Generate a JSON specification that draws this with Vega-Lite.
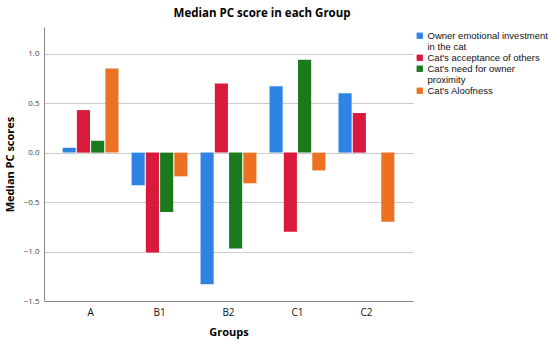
{
  "$schema": "https://vega.github.io/schema/vega-lite/v6.json",
  "width": 369,
  "height": 274,
  "autosize": {"type": "none"},
  "padding": {"left": 44, "top": 27, "right": 137, "bottom": 45},
  "title": {"text": "Median PC score in each Group", "anchor": "middle", "frame": "bounds", "fontSize": 11.5, "font": "Open Sans", "fontWeight": "bold", "offset": 8, "dx": -14},
  "config": {"view": {"stroke": null}, "font": "Open Sans"},
  "data": {"values": [
    {"group": "A", "factor": "Owner emotional investment|in the cat", "value": 0.05},
    {"group": "A", "factor": "Cat's acceptance of others", "value": 0.43},
    {"group": "A", "factor": "Cat's need for owner|proximity", "value": 0.12},
    {"group": "A", "factor": "Cat's Aloofness", "value": 0.85},
    {"group": "B1", "factor": "Owner emotional investment|in the cat", "value": -0.33},
    {"group": "B1", "factor": "Cat's acceptance of others", "value": -1.01},
    {"group": "B1", "factor": "Cat's need for owner|proximity", "value": -0.6},
    {"group": "B1", "factor": "Cat's Aloofness", "value": -0.24},
    {"group": "B2", "factor": "Owner emotional investment|in the cat", "value": -1.33},
    {"group": "B2", "factor": "Cat's acceptance of others", "value": 0.7},
    {"group": "B2", "factor": "Cat's need for owner|proximity", "value": -0.97},
    {"group": "B2", "factor": "Cat's Aloofness", "value": -0.31},
    {"group": "C1", "factor": "Owner emotional investment|in the cat", "value": 0.67},
    {"group": "C1", "factor": "Cat's acceptance of others", "value": -0.8},
    {"group": "C1", "factor": "Cat's need for owner|proximity", "value": 0.94},
    {"group": "C1", "factor": "Cat's Aloofness", "value": -0.18},
    {"group": "C2", "factor": "Owner emotional investment|in the cat", "value": 0.6},
    {"group": "C2", "factor": "Cat's acceptance of others", "value": 0.4},
    {"group": "C2", "factor": "Cat's need for owner|proximity", "value": 0},
    {"group": "C2", "factor": "Cat's Aloofness", "value": -0.7}
  ]},
  "mark": {"type": "bar"},
  "encoding": {
    "x": {"field": "group", "type": "nominal",
      "scale": {"paddingInner": 0.19, "paddingOuter": 0.27},
      "axis": {"title": "Groups", "labelAngle": 0, "labelFontSize": 10, "labelColor": "#111", "titleFontSize": 11, "titleFontWeight": "bold", "titlePadding": 9, "ticks": false, "domainColor": "#888", "labelPadding": 6}},
    "xOffset": {"field": "factor", "type": "nominal", "sort": ["Owner emotional investment|in the cat", "Cat's acceptance of others", "Cat's need for owner|proximity", "Cat's Aloofness"], "scale": {"paddingInner": 0.08}},
    "y": {"field": "value", "type": "quantitative",
      "scale": {"domain": [-1.5, 1.27], "nice": false, "zero": false},
      "axis": {"title": "Median PC scores", "values": [-1.5, -1.0, -0.5, 0, 0.5, 1.0], "format": ".1f", "labelFontSize": 8, "labelColor": "#444", "titleFontSize": 11, "titleFontWeight": "bold", "titlePadding": 8, "ticks": false, "domainColor": "#888", "gridColor": "#ccc", "labelPadding": 5}},
    "color": {"field": "factor", "type": "nominal",
      "scale": {"domain": ["Owner emotional investment|in the cat", "Cat's acceptance of others", "Cat's need for owner|proximity", "Cat's Aloofness"], "range": ["#2f83e4", "#d91a3c", "#1b7a1b", "#ec7222"]},
      "legend": {"title": null, "orient": "none", "legendX": 371, "legendY": 4, "symbolType": "square", "symbolSize": 40, "labelFont": "Liberation Sans", "labelFontSize": 9.5, "labelColor": "#111", "labelExpr": "split(datum.label, '|')", "labelLimit": 140, "rowPadding": 0, "labelOffset": 3}}
  }
}
